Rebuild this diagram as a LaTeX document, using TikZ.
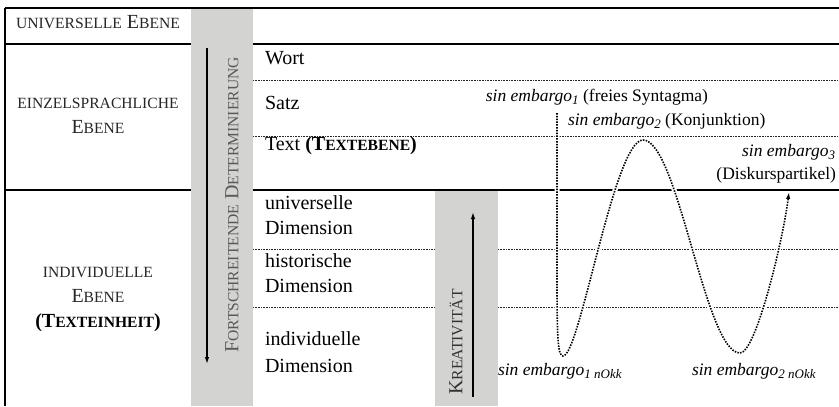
\documentclass[tikz,border=0pt]{standalone}
\usepackage{fontspec}
\setmainfont{Liberation Serif}
\usetikzlibrary{arrows.meta}
\definecolor{colgray}{RGB}{211,212,210}
\newcommand\fsc[1]{{\fontsize{15.6bp}{15.6bp}\selectfont #1}}
\newcommand\isub[1]{\raisebox{-0.2em}{\fontsize{13bp}{13bp}\selectfont\itshape #1}}
\begin{document}
\begin{tikzpicture}[x=1bp,y=-1bp,
  every node/.style={inner sep=0pt, outer sep=0pt},
  main/.style={font=\fontsize{20bp}{25bp}\selectfont},
  lbl/.style={font=\fontsize{17.5bp}{20bp}\selectfont},
  rule/.style={line width=1.1bp},
  dotrule/.style={line width=1bp, black!85, dash pattern=on 1bp off 0.6bp},
  wave/.style={line width=1.6bp, dash pattern=on 1.5bp off 1.3bp},
  halo/.style={line width=5bp, white},
  arr/.style={line width=1.3bp, -{Latex[length=7bp,width=4.5bp]}},
]
\useasboundingbox (0,0) rectangle (839,406);
% gray columns
\fill[colgray] (191,9) rectangle (253,406);
\fill[colgray] (435,191) rectangle (498,406);
% frame lines
\draw[rule] (5,8) -- (839,8);
\draw[rule] (5,8) -- (5,406);
\draw[rule] (5,44) -- (191,44);
\draw[rule] (253,44) -- (839,44);
\draw[rule] (5,190) -- (191,190);
\draw[rule] (253,190) -- (839,190);
\draw[dotrule] (253,80) -- (839,80);
\draw[dotrule] (253,136) -- (839,136);
\draw[dotrule] (253,249) -- (435,249);
\draw[dotrule] (498,249) -- (839,249);
\draw[dotrule] (253,307) -- (435,307);
\draw[dotrule] (498,307) -- (839,307);
% left column texts
\node[main, anchor=mid, text=black!85] (ue) at (98,26) {\fsc{UNIVERSELLE} E\fsc{BENE}};
\node[main, anchor=mid, text=black!85] (ee1) at (98,106) {\fsc{EINZELSPRACHLICHE}};
\node[main, anchor=mid, text=black!85] (ee2) at (98,131) {E\fsc{BENE}};
\node[main, anchor=mid, text=black!85] (ie1) at (98,275) {\fsc{INDIVIDUELLE}};
\node[main, anchor=mid, text=black!85] (ie2) at (98,300) {E\fsc{BENE}};
\node[main, anchor=mid] (ie3) at (98,325) {\textbf{(T\fsc{EXTEINHEIT})}};
% rotated column texts
\node[main, rotate=90, text=black!65] (fd) at (232,205) {F\fsc{ORTSCHREITENDE} D\fsc{ETERMINIERUNG}};
\node[main, rotate=90, text=black!80] (kr) at (456,342) {K\fsc{REATIVITÄT}};
\coordinate (a1s) at (207,48);
\coordinate (a1e) at (207,364);
\draw[arr] (a1s) -- (a1e);
\coordinate (a2s) at (473,397);
\coordinate (a2e) at (473,212);
\draw[arr] (a2s) -- (a2e);
% row texts
\node[main, anchor=mid west] (wort) at (265,62) {Wort};
\node[main, anchor=mid west] (satz) at (265,107) {Satz};
\node[main, anchor=mid west] (text) at (265,148) {Text \textbf{(T\fsc{EXTEBENE})}};
\node[main, anchor=mid west] (ud1) at (265,207) {universelle};
\node[main, anchor=mid west] (ud2) at (265,232) {Dimension};
\node[main, anchor=mid west] (hd1) at (265,265) {historische};
\node[main, anchor=mid west] (hd2) at (265,290) {Dimension};
\node[main, anchor=mid west] (id1) at (265,343) {individuelle};
\node[main, anchor=mid west] (id2) at (265,370) {Dimension};
% wave
\coordinate (v0) at (557,113);
\coordinate (v1) at (557,280);
\coordinate (t1) at (563,356);
\coordinate (c1) at (643,140);
\coordinate (t2) at (740,353);
\coordinate (ve) at (789,192);
\draw[halo] (v0) -- (v1) .. controls (557,340) and (558,356) .. (t1)
  .. controls (580,356) and (614,140) .. (c1)
  .. controls (678,140) and (705,353) .. (t2)
  .. controls (756,353) and (783,240) .. (ve);
\draw[wave, -{Latex[length=7bp,width=4.5bp]}] (v0) -- (v1) .. controls (557,340) and (558,356) .. (t1)
  .. controls (580,356) and (614,140) .. (c1)
  .. controls (678,140) and (705,353) .. (t2)
  .. controls (756,353) and (783,240) .. (ve);
% labels
\node[lbl, anchor=mid east] (e1) at (708,99) {\textit{sin embargo}\isub{1} (freies Syntagma)};
\node[lbl, anchor=mid west] (e2) at (568,123) {\textit{sin embargo}\isub{2} (Konjunktion)};
\node[lbl, anchor=mid east] (e3) at (835,154) {\textit{sin embargo}\isub{3}};
\node[lbl, anchor=mid east] (e3b) at (836,177) {(Diskurspartikel)};
\node[lbl, anchor=mid west] (n1) at (498,373) {\textit{sin embargo}\isub{1 nOkk}};
\node[lbl, anchor=mid west] (n2) at (692,373) {\textit{sin embargo}\isub{2 nOkk}};
\end{tikzpicture}
\end{document}
